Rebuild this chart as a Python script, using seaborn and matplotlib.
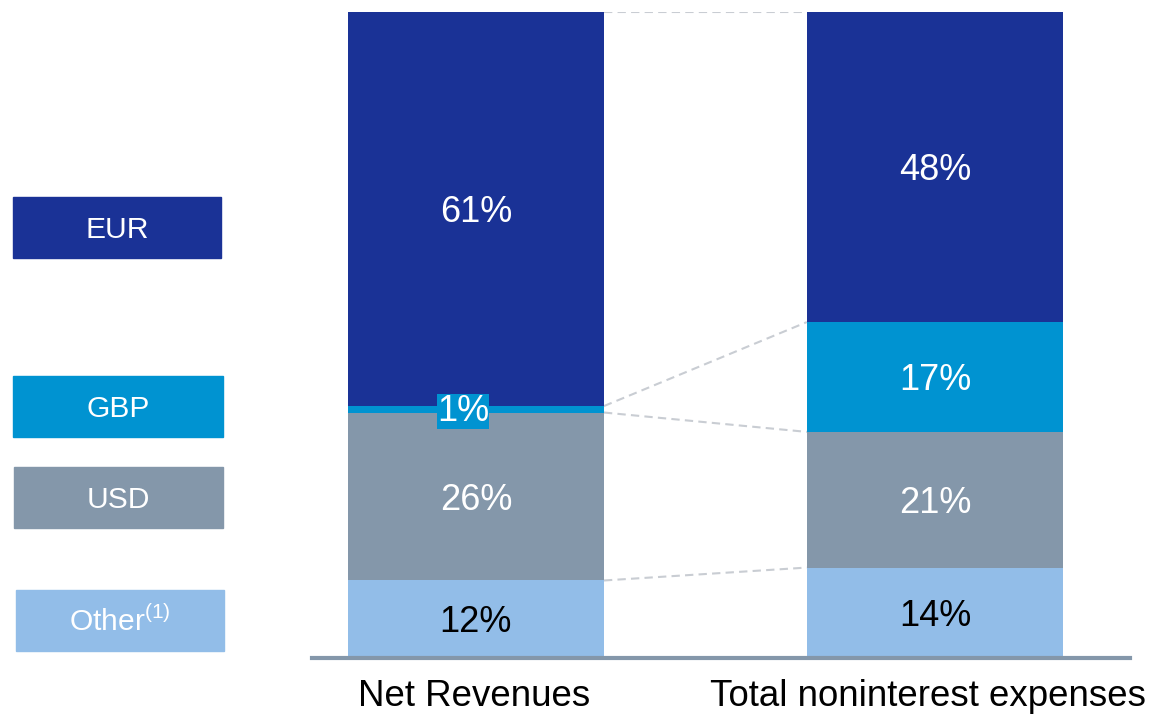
import numpy as np
import pandas as pd
import matplotlib
matplotlib.use("Agg")
import matplotlib.pyplot as plt
import matplotlib.patches as mpatches
import seaborn as sns

# data
categories = ["Net Revenues", "Total noninterest expenses"]
currencies = ["Other", "USD", "GBP", "EUR"]          # bottom -> top
other = [12, 14]
usd = [26, 21]
gbp = [1, 17]
eur = [61, 48]
legend_labels = ["EUR", "GBP", "USD", "Other$^{\\mathrm{(1)}}$"]

colors = {"EUR": "#1a3296", "GBP": "#0093d1", "USD": "#8497aa", "Other": "#92bde8"}
text_colors = {"EUR": "white", "GBP": "white", "USD": "white", "Other": "black"}

sns.set_style("white")
plt.rcParams["font.family"] = ["Liberation Sans", "DejaVu Sans"]
plt.rcParams["mathtext.fontset"] = "custom"
plt.rcParams["mathtext.rm"] = "Liberation Sans"

vals = pd.DataFrame({"Other": other, "USD": usd, "GBP": gbp, "EUR": eur}, index=categories)
tops = vals[currencies].cumsum(axis=1)
bottoms = tops - vals[currencies]

fig = plt.figure(figsize=(11.53, 7.15), dpi=100)
ax = fig.add_axes([312 / 1153, 57 / 715, 818 / 1153, 646 / 715])

bw = 0.558
# stacked bars: draw from the top layer down so lower layers cover upper ones
for cur in currencies[::-1]:
    df = pd.DataFrame({"cat": categories, "top": tops[cur].values})
    sns.barplot(data=df, x="cat", y="top", color=colors[cur], width=bw,
                saturation=1, ax=ax, linewidth=0)

# dashed connectors between bars
for cur in currencies:
    ax.plot([bw / 2, 1 - bw / 2], [tops[cur].iloc[0], tops[cur].iloc[1]],
            ls=(0, (4, 2.5)), color="#c9cdd3", lw=1.5, zorder=0.5)

# segment labels (baseline placed half a cap height below the centre)
fs = 26
for i, cat in enumerate(categories):
    for cur in currencies:
        v = vals.loc[cat, cur]
        y = bottoms.loc[cat, cur] + v / 2
        if v < 3:
            ax.annotate(f"{v}%", (i - 0.028, y), xytext=(0, -0.36 * fs * 0.9),
                        textcoords="offset points", ha="center", va="baseline",
                        fontsize=fs, color="white",
                        bbox=dict(boxstyle="square,pad=0.0", fc=colors[cur], ec="none"))
        else:
            ax.annotate(f"{v}%", (i, y), xytext=(0, -0.36 * fs),
                        textcoords="offset points", ha="center", va="baseline",
                        fontsize=fs, color=text_colors[cur])

ax.set_xlim(-0.357, 1.425)
ax.set_ylim(0, 100)
ax.set_xlabel("")
ax.set_ylabel("")
ax.set_yticks([])
ax.set_xticks([])
for s in ["top", "right", "left"]:
    ax.spines[s].set_visible(False)
ax.spines["bottom"].set_color("#8497aa")
ax.spines["bottom"].set_linewidth(3)

# category labels below the baseline
for xc, cat in zip([474, 928], categories):
    fig.text(xc / 1153, 1 - 706 / 715, cat, ha="center", va="baseline",
             fontsize=26.4, color="black")

# legend boxes on the left
boxes = [(13, 197, 208), (13, 376, 210), (14, 467, 209), (16, 590, 208)]
lfs = 21.6
for (x0, y0, w), cur, lab in zip(boxes, ["EUR", "GBP", "USD", "Other"], legend_labels):
    fx, fy = x0 / 1153, 1 - (y0 + 61) / 715
    fig.patches.append(mpatches.Rectangle((fx, fy), w / 1153, 61 / 715,
                                          transform=fig.transFigure, color=colors[cur]))
    yb = y0 + 30.5 + 0.36 * lfs * 100 / 72
    fig.text((x0 + w / 2) / 1153, 1 - yb / 715, lab, ha="center", va="baseline",
             fontsize=lfs, color="white")

fig.savefig("out.png", dpi=100)
